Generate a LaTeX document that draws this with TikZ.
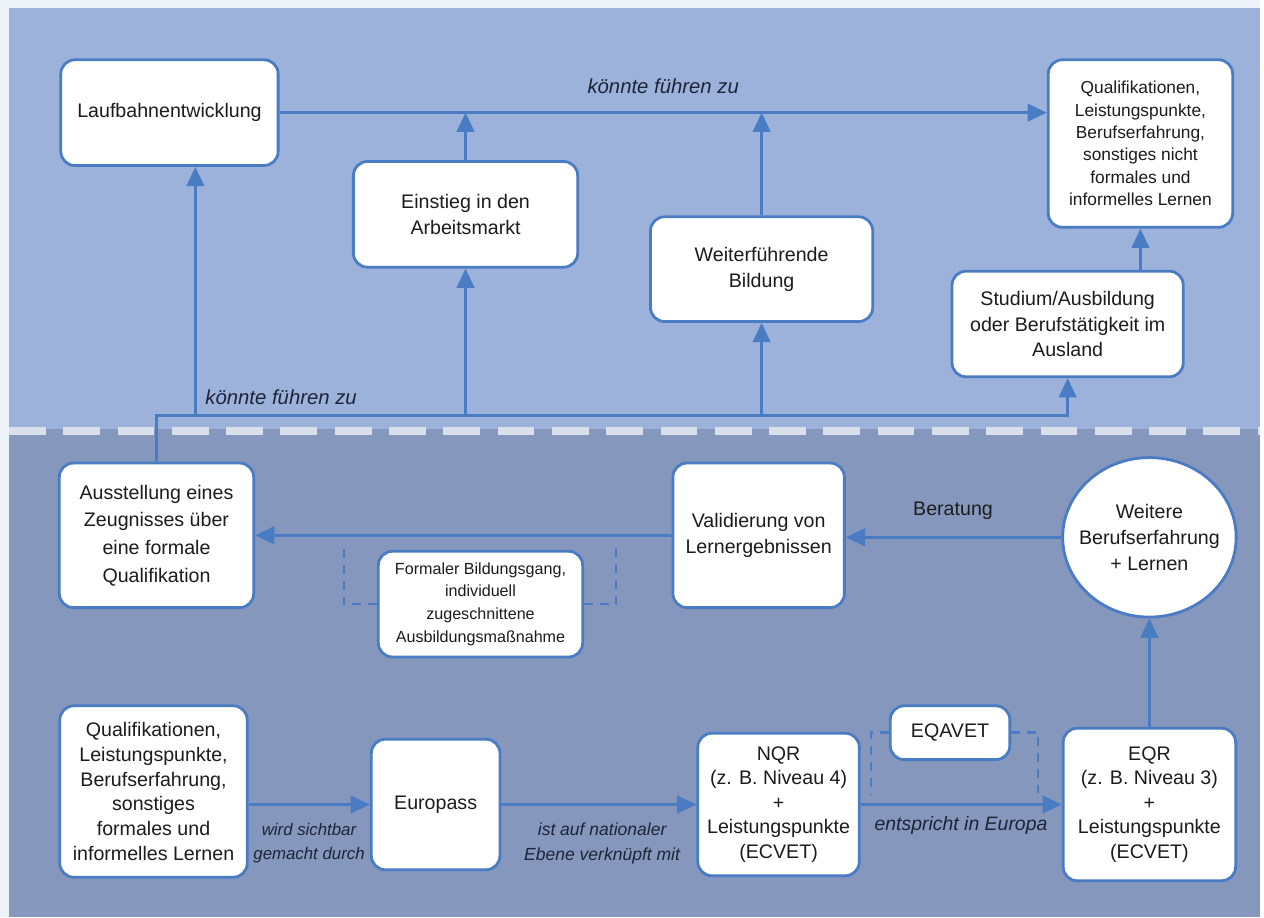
\documentclass[tikz,border=0pt]{standalone}
\usepackage{fontspec}
\setmainfont{Liberation Sans}
\usepackage{xcolor}
\definecolor{randhell}{HTML}{EEF2F9}
\definecolor{bandoben}{HTML}{9DB2DB}
\definecolor{bandunten}{HTML}{8697BE}
\definecolor{linienblau}{HTML}{4A7CC4}
\definecolor{trennweiss}{HTML}{D9DFEB}
\definecolor{textgrau}{HTML}{1C1C1C}
\definecolor{labeltext}{HTML}{1D2437}
\usetikzlibrary{arrows.meta, positioning, shapes.geometric, calc}

\begin{document}
\begin{tikzpicture}[x=0.02cm, y=-0.02cm,
    kasten/.style={draw=linienblau, fill=white, line width=1.6pt,
      rounded corners=8pt, align=center, inner sep=2pt, text=textgrau,
      font=\fontsize{11.2}{14.8}\selectfont},
    groesse/.style 2 args={minimum width=#1*0.02cm, minimum height=#2*0.02cm},
    pfeil/.style={draw=linienblau, line width=1.6pt,
      -{Triangle[length=11pt, width=10pt]}},
    klammer/.style={draw=linienblau, line width=1.4pt,
      dash pattern=on 5pt off 4pt},
    etikett/.style={text=labeltext, inner sep=0pt,
      font=\fontsize{11.6}{13}\selectfont\itshape}]
  % hintergrund
  \fill[randhell] (0,0) rectangle (1264,920);
  \fill[bandoben] (9,8) rectangle (1264,430);
  \fill[bandunten] (9,430) rectangle (1264,920);
  \draw[trennweiss, line width=4.5pt, dash pattern=on 21pt off 10pt]
    (9,432) -- (1264,432);

  % obere ebene
  \node[kasten, groesse={218}{106}] (lauf) at (170,113) {Laufbahnentwicklung};
  \node[kasten, groesse={225}{106}] (einstieg) at (467,215)
    {Einstieg in den\\Arbeitsmarkt};
  \node[kasten, groesse={223}{105}] (weiter) at (764,270)
    {Weiterführende\\Bildung};
  \node[kasten, groesse={185}{168}, font=\fontsize{9.9}{12.8}\selectfont]
    (qualioben) at (1144,144)
    {Qualifikationen,\\Leistungspunkte,\\Berufserfahrung,\\sonstiges nicht\\formales und\\informelles Lernen};
  \node[kasten, groesse={232}{106}] (ausland) at (1071,325)
    {Studium/Ausbildung\\oder Berufstätigkeit im\\Ausland};

  % untere ebene
  \node[kasten, groesse={195}{145}, font=\fontsize{11.2}{15.8}\selectfont]
    (zeugnis) at (157,537)
    {Ausstellung eines\\Zeugnisses über\\eine formale\\Qualifikation};
  \node[kasten, groesse={205}{106}, font=\fontsize{9.2}{12.9}\selectfont]
    (bildungsgang) at (482,606)
    {Formaler Bildungsgang,\\individuell\\zugeschnittene\\Ausbildungsmaßnahme};
  \node[kasten, groesse={172}{145}] (valid) at (761,537)
    {Validierung von\\Lernergebnissen};
  \node[kasten, ellipse, inner xsep=-6.5pt, inner ysep=0pt,
    groesse={174}{160}] (erfahrung)
    at (1153,539) {Weitere\\Berufserfahrung\\+ Lernen};
  \node[kasten, groesse={188}{172}, font=\fontsize{11.2}{14.2}\selectfont]
    (quali) at (154,794)
    {Qualifikationen,\\Leistungspunkte,\\Berufserfahrung,\\sonstiges\\formales und\\informelles Lernen};
  \node[kasten, groesse={129}{131}] (europass) at (437,807) {Europass};
  \node[kasten, groesse={162}{143}, font=\fontsize{11.2}{14}\selectfont]
    (nqr) at (781,807)
    {NQR\\(z. B. Niveau 4)\\+\\Leistungspunkte\\(ECVET)};
  \node[kasten, groesse={120}{54}] (eqavet) at (953,735) {EQAVET};
  \node[kasten, groesse={173}{153}, font=\fontsize{11.2}{14}\selectfont]
    (eqr) at (1153,807)
    {EQR\\(z. B. Niveau 3)\\+\\Leistungspunkte\\(ECVET)};

  % verbindungen oben
  \coordinate (bus) at (0,417);
  \coordinate (lauffuss) at ($(lauf.south)+(26,0)$);
  \draw[pfeil] (lauf.east) -- (lauf.east -| qualioben.west)
    node[etikett, midway, above=10pt] (fuehrtoben) {könnte führen zu};
  \draw[pfeil] (einstieg.north) -- (einstieg.north |- lauf.east);
  \draw[pfeil] (weiter.north) -- (weiter.north |- lauf.east);
  \draw[pfeil] (ausland.north -| qualioben.south) -- (qualioben.south);
  \draw[pfeil] (zeugnis.north) |- (bus -| ausland.south) -- (ausland.south);
  \draw[pfeil] (bus -| lauffuss) -- (lauffuss);
  \draw[pfeil] (bus -| einstieg.south) -- (einstieg.south);
  \draw[pfeil] (bus -| weiter.south) -- (weiter.south);
  \node[etikett] (fuehrtunten) at (282,398) {könnte führen zu};

  % verbindungen unten
  \draw[pfeil] (valid.west) -- (zeugnis.east);
  \draw[pfeil] (erfahrung.west) -- (erfahrung.west -| valid.east);
  \node[text=textgrau, font=\fontsize{11.2}{13}\selectfont] (beratung)
    at (956,512) {Beratung};
  \draw[pfeil] (eqr.north) -- (erfahrung.south);
  \draw[pfeil] (quali.east |- europass.west) -- (europass.west);
  \draw[pfeil] (europass.east) -- (nqr.west);
  \draw[pfeil] (nqr.east) -- (eqr.west);
  \node[etikett, align=center, font=\fontsize{9.6}{14}\selectfont\itshape]
    (sichtbar) at (310,846) {wird sichtbar\\gemacht durch};
  \node[etikett, align=center, font=\fontsize{10}{14.5}\selectfont\itshape]
    (national) at (604,846) {ist auf nationaler\\Ebene verknüpft mit};
  \node[etikett, font=\fontsize{11.1}{13}\selectfont\itshape]
    (europa) at (964,828) {entspricht in Europa};

  % gestrichelte klammern
  \draw[klammer] (bildungsgang.west) -- ++(-33,0) -- ++(0,-59);
  \draw[klammer] (bildungsgang.east) -- ++(32,0) -- ++(0,-59);
  \draw[klammer] (eqavet.west) -- ++(-18,0) -- ++(0,62);
  \draw[klammer] (eqavet.east) -- ++(27,0) -- ++(0,62);
\end{tikzpicture}
\end{document}
